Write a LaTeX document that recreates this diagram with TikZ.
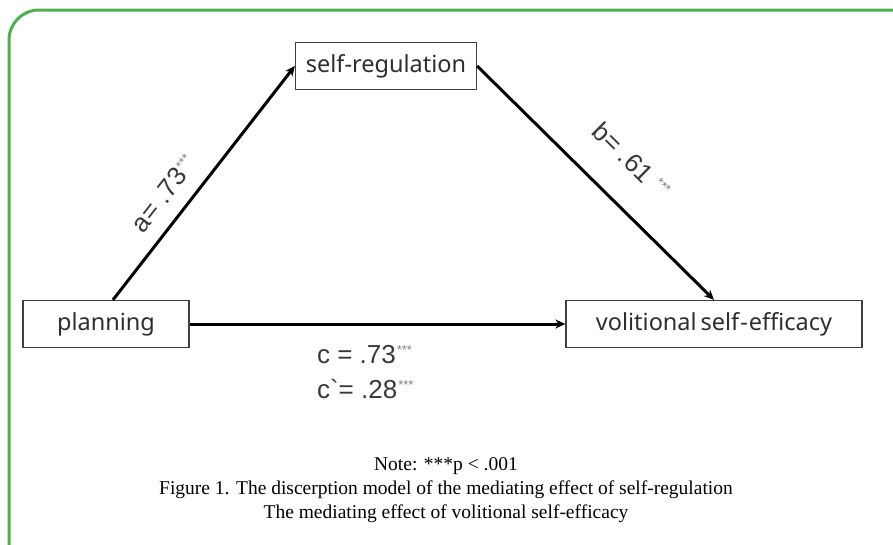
\documentclass[tikz,border=0pt]{standalone}
\usepackage{fontspec}
\setmainfont{Liberation Serif}
\newfontfamily\labelfont{Noto Sans}
\newfontfamily\coeffont{Liberation Sans}
\usepackage{tikz}
\usetikzlibrary{
	arrows.meta,									% 箭头样式
	positioning,									% 节点的相对摆放
}
\newcommand{\sigstars}{\kern1pt\textsuperscript{\color{black!50}\fontsize{13}{13}\selectfont ***}}

\tikzset{
	varbox/.style={draw=black!75, line width=1.3pt, minimum height=47pt, inner xsep=6pt,
		font=\labelfont\fontsize{23.5}{26}\selectfont, text=black!82},
	path arrow/.style={line width=3pt, -{Stealth[length=10pt, width=9pt]}},
	coef/.style={font=\coeffont\fontsize{26}{35}\selectfont, text=black!78},
}

\begin{document}
\begin{tikzpicture}[x=1pt, y=-1pt]
		\clip (0,0) rectangle (893,544);
		\draw[draw={rgb,255:red,76;green,175;blue,80}, line width=3pt, rounded corners=30pt]
		(9,10) rectangle (940,600);

		% 三个变量
		\node[varbox, minimum width=181pt] (sreg) at (386,66) {self-regulation};
		\node[varbox, minimum width=166pt] (plan) at (106,324) {planning};
		\node[varbox, minimum width=296pt] (vse) at (714,324) {volitional\,self\kern1pt-\kern1pt efficacy};

		% 路径
		\draw[path arrow] ([xshift=7pt]plan.north) -- (sreg.west)
		node[coef, pos=0.39, sloped, above=11pt] {a= .73\sigstars};
		\draw[path arrow] (sreg.east) -- (vse.north)
		node[coef, pos=0.53, sloped, above=27pt] {b= .61 \sigstars};
		\draw[path arrow] (plan.east) -- (vse.west)
		node[coef, midway, below=17pt, xshift=-12pt, align=left] (clab) {c = .73\sigstars\\c`= .28\sigstars};

		% 注释
		\node[font=\fontsize{19.5}{24}\selectfont, align=center] (note) at (446,490)
		{Note: ***p < .001\\
			Figure 1. The discerption model of the mediating effect of self-regulation\\
			The mediating effect of volitional self-efficacy};
	\end{tikzpicture}
\end{document}
